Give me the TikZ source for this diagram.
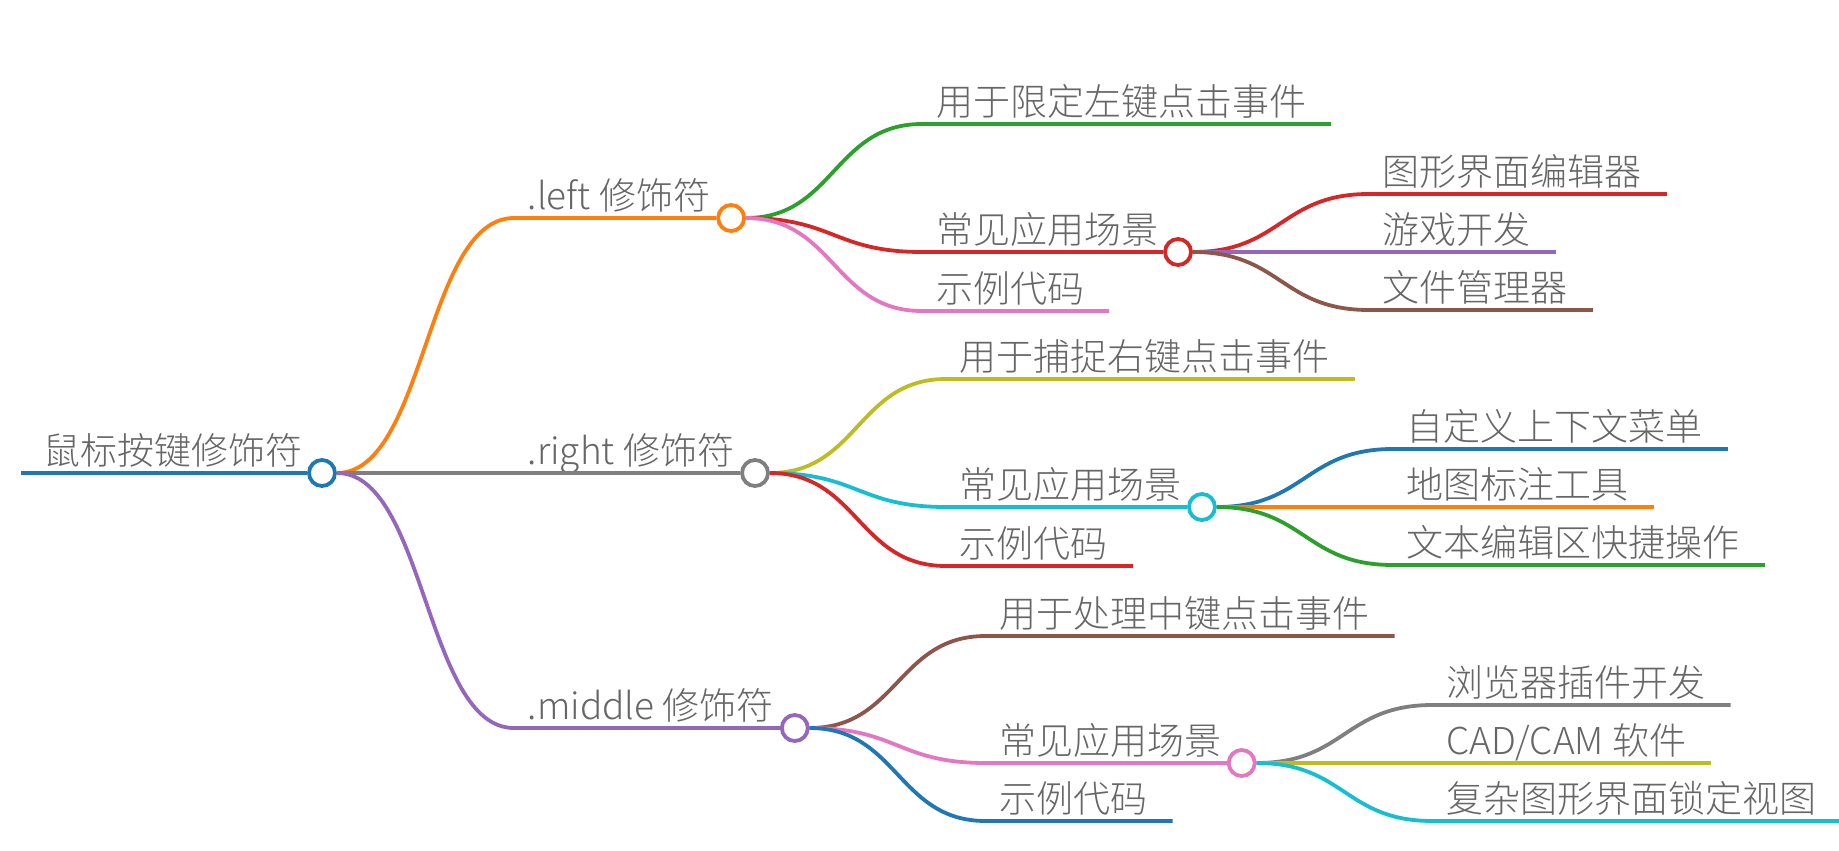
\documentclass[tikz,border=0pt]{standalone}
\usepackage{fontspec}
\setmainfont{Noto Sans CJK SC Light}
\usetikzlibrary{positioning, calc}
\definecolor{mmblue}{HTML}{1F77B4}
\definecolor{mmorange}{HTML}{FF7F0E}
\definecolor{mmgreen}{HTML}{2CA02C}
\definecolor{mmred}{HTML}{D62728}
\definecolor{mmpurple}{HTML}{9467BD}
\definecolor{mmbrown}{HTML}{8C564B}
\definecolor{mmpink}{HTML}{E377C2}
\definecolor{mmgray}{HTML}{7F7F7F}
\definecolor{mmolive}{HTML}{BCBD22}
\definecolor{mmcyan}{HTML}{17BECF}
\definecolor{mmtext}{HTML}{666666}

\begin{document}
\begin{tikzpicture}[x=1pt, y=1pt,
    lbl/.style={anchor=base west, inner sep=0pt, outer sep=0pt, text=mmtext, font=\fontsize{37}{44}\selectfont},
    dot/.style={circle, draw=#1, line width=3.8pt, fill=white, inner sep=0pt, minimum size=26pt},
    br/.style={line width=3.8pt, draw=#1},
    swoop/.style={to path={let \p1=(\tikztostart), \p2=(\tikztotarget) in .. controls ({0.5*\x1+0.5*\x2},\y1) and ({0.5*\x1+0.5*\x2},\y2) .. (\tikztotarget)}}]
  \useasboundingbox (0,0) rectangle (1839,-851);
  \coordinate (rs) at (21,-473);
  \node[lbl] (root) at (43,-464) {鼠标按键修饰符};
  \node[dot=mmblue] (rc) at (322,-473) {};
  \draw[br=mmblue] (rs) -- (rc.west);
  % .left
  \coordinate[right=177pt of rc, yshift=255pt] (ls);
  \node[lbl] (l) at ([shift={(14,9)}]ls) {.left 修饰符};
  \node[dot=mmorange] (lc) at ($(ls -| l.east)+(21,0)$) {};
  \draw[br=mmorange] (rc.east) to[swoop] (ls) -- (lc.west);
  \coordinate[right=176pt of lc, yshift=94pt] (l1s);
  \node[lbl] (l1) at ([shift={(14,9)}]l1s) {用于限定左键点击事件};
  \draw[br=mmgreen] (lc.east) to[swoop] (l1s) -- ($(l1s -| l1.east)+(25,0)$);
  \coordinate[right=176pt of lc, yshift=-34pt] (l2s);
  \node[lbl] (l2) at ([shift={(14,9)}]l2s) {常见应用场景};
  \node[dot=mmred] (l2c) at ($(l2s -| l2.east)+(20,0)$) {};
  \draw[br=mmred] (lc.east) to[swoop] (l2s) -- (l2c.west);
  \coordinate[right=176pt of lc, yshift=-93pt] (l3s);
  \node[lbl] (l3) at ([shift={(14,9)}]l3s) {示例代码};
  \draw[br=mmpink] (lc.east) to[swoop] (l3s) -- ($(l3s -| l3.east)+(25,0)$);
  \coordinate[right=176pt of l2c, yshift=58pt] (l21s);
  \node[lbl] (l21) at ([shift={(14,9)}]l21s) {图形界面编辑器};
  \draw[br=mmred] (l2c.east) to[swoop] (l21s) -- ($(l21s -| l21.east)+(25,0)$);
  \coordinate[right=176pt of l2c] (l22s);
  \node[lbl] (l22) at ([shift={(14,9)}]l22s) {游戏开发};
  \draw[br=mmpurple] (l2c.east) -- (l22s) -- ($(l22s -| l22.east)+(25,0)$);
  \coordinate[right=176pt of l2c, yshift=-58pt] (l23s);
  \node[lbl] (l23) at ([shift={(14,9)}]l23s) {文件管理器};
  \draw[br=mmbrown] (l2c.east) to[swoop] (l23s) -- ($(l23s -| l23.east)+(25,0)$);
  % .right
  \coordinate[right=177pt of rc] (rts);
  \node[lbl] (rt) at ([shift={(14,9)}]rts) {.right 修饰符};
  \node[dot=mmgray] (rtc) at ($(rts -| rt.east)+(21,0)$) {};
  \draw[br=mmgray] (rc.east) -- (rts) -- (rtc.west);
  \coordinate[right=176pt of rtc, yshift=94pt] (rt1s);
  \node[lbl] (rt1) at ([shift={(14,9)}]rt1s) {用于捕捉右键点击事件};
  \draw[br=mmolive] (rtc.east) to[swoop] (rt1s) -- ($(rt1s -| rt1.east)+(25,0)$);
  \coordinate[right=176pt of rtc, yshift=-34pt] (rt2s);
  \node[lbl] (rt2) at ([shift={(14,9)}]rt2s) {常见应用场景};
  \node[dot=mmcyan] (rt2c) at ($(rt2s -| rt2.east)+(20,0)$) {};
  \draw[br=mmcyan] (rtc.east) to[swoop] (rt2s) -- (rt2c.west);
  \coordinate[right=176pt of rtc, yshift=-93pt] (rt3s);
  \node[lbl] (rt3) at ([shift={(14,9)}]rt3s) {示例代码};
  \draw[br=mmred] (rtc.east) to[swoop] (rt3s) -- ($(rt3s -| rt3.east)+(25,0)$);
  \coordinate[right=176pt of rt2c, yshift=58pt] (rt21s);
  \node[lbl] (rt21) at ([shift={(14,9)}]rt21s) {自定义上下文菜单};
  \draw[br=mmblue] (rt2c.east) to[swoop] (rt21s) -- ($(rt21s -| rt21.east)+(25,0)$);
  \coordinate[right=176pt of rt2c] (rt22s);
  \node[lbl] (rt22) at ([shift={(14,9)}]rt22s) {地图标注工具};
  \draw[br=mmorange] (rt2c.east) -- (rt22s) -- ($(rt22s -| rt22.east)+(25,0)$);
  \coordinate[right=176pt of rt2c, yshift=-58pt] (rt23s);
  \node[lbl] (rt23) at ([shift={(14,9)}]rt23s) {文本编辑区快捷操作};
  \draw[br=mmgreen] (rt2c.east) to[swoop] (rt23s) -- ($(rt23s -| rt23.east)+(25,0)$);
  % .middle
  \coordinate[right=177pt of rc, yshift=-255pt] (ms);
  \node[lbl] (m) at ([shift={(14,9)}]ms) {.middle 修饰符};
  \node[dot=mmpurple] (mc) at ($(ms -| m.east)+(21,0)$) {};
  \draw[br=mmpurple] (rc.east) to[swoop] (ms) -- (mc.west);
  \coordinate[right=176pt of mc, yshift=92pt] (m1s);
  \node[lbl] (m1) at ([shift={(14,9)}]m1s) {用于处理中键点击事件};
  \draw[br=mmbrown] (mc.east) to[swoop] (m1s) -- ($(m1s -| m1.east)+(25,0)$);
  \coordinate[right=176pt of mc, yshift=-35pt] (m2s);
  \node[lbl] (m2) at ([shift={(14,9)}]m2s) {常见应用场景};
  \node[dot=mmpink] (m2c) at ($(m2s -| m2.east)+(20,0)$) {};
  \draw[br=mmpink] (mc.east) to[swoop] (m2s) -- (m2c.west);
  \coordinate[right=176pt of mc, yshift=-93pt] (m3s);
  \node[lbl] (m3) at ([shift={(14,9)}]m3s) {示例代码};
  \draw[br=mmblue] (mc.east) to[swoop] (m3s) -- ($(m3s -| m3.east)+(25,0)$);
  \coordinate[right=176pt of m2c, yshift=58pt] (m21s);
  \node[lbl] (m21) at ([shift={(14,9)}]m21s) {浏览器插件开发};
  \draw[br=mmgray] (m2c.east) to[swoop] (m21s) -- ($(m21s -| m21.east)+(25,0)$);
  \coordinate[right=176pt of m2c] (m22s);
  \node[lbl] (m22) at ([shift={(14,9)}]m22s) {CAD/CAM 软件};
  \draw[br=mmolive] (m2c.east) -- (m22s) -- ($(m22s -| m22.east)+(25,0)$);
  \coordinate[right=176pt of m2c, yshift=-58pt] (m23s);
  \node[lbl] (m23) at ([shift={(14,9)}]m23s) {复杂图形界面锁定视图};
  \draw[br=mmcyan] (m2c.east) to[swoop] (m23s) -- ($(m23s -| m23.east)+(25,0)$);
\end{tikzpicture}
\end{document}
